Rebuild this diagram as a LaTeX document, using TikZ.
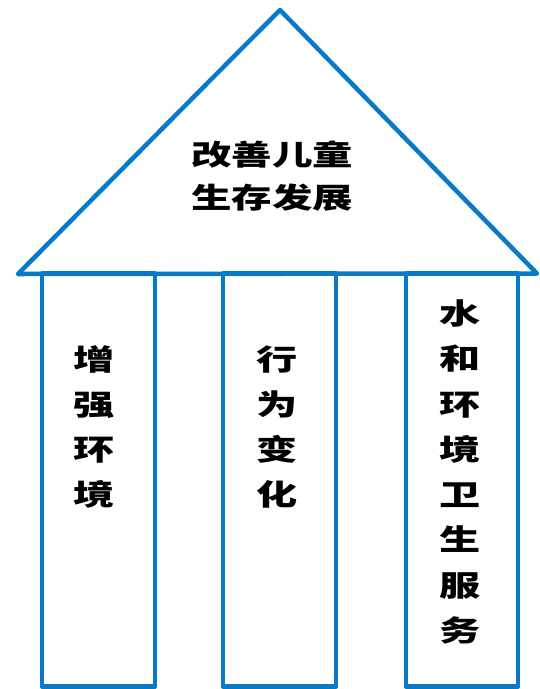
\documentclass[tikz,border=0pt]{standalone}
\usepackage{fontspec}
\newfontfamily\cjk[FakeStretch=1.42]{Noto Sans CJK SC}
\definecolor{pillarblue}{RGB}{8,122,200}
\begin{document}
\begin{tikzpicture}[x=1pt,y=-1pt,
  outline/.style={draw=pillarblue,line width=4.5pt,line join=round},
  roof text/.style={font=\cjk\bfseries\fontsize{28.5}{43}\selectfont,align=center,inner sep=0pt},
  pillar text/.style={font=\cjk\bfseries\fontsize{29}{45.3}\selectfont,align=center,inner sep=0pt}]
\useasboundingbox (0,0) rectangle (540,689);
\fill[white] (0,0) rectangle (540,689);
% roof
\coordinate (roofL) at (18,274);
\coordinate (roofT) at (280,10);
\coordinate (roofR) at (537,273.5);
\draw[outline] (roofL) -- (roofT) -- (roofR) -- cycle;
% pillars
\node[outline,minimum width=113pt,minimum height=413pt,inner sep=0pt] (p1) at (98.5,480) {};
\node[outline,minimum width=113pt,minimum height=413pt,inner sep=0pt] (p2) at (279.5,480) {};
\node[outline,minimum width=112pt,minimum height=413pt,inner sep=0pt] (p3) at (462,480) {};
% texts
\node[roof text] (title) at (272,176.5) {改善儿童\\生存发展};
\node[pillar text] (t1) at (94,427) {增\\强\\环\\境};
\node[pillar text] (t2) at (277,427) {行\\为\\变\\化};
\node[pillar text] (t3) at (460,472) {水\\和\\环\\境\\卫\\生\\服\\务};
\end{tikzpicture}
\end{document}
